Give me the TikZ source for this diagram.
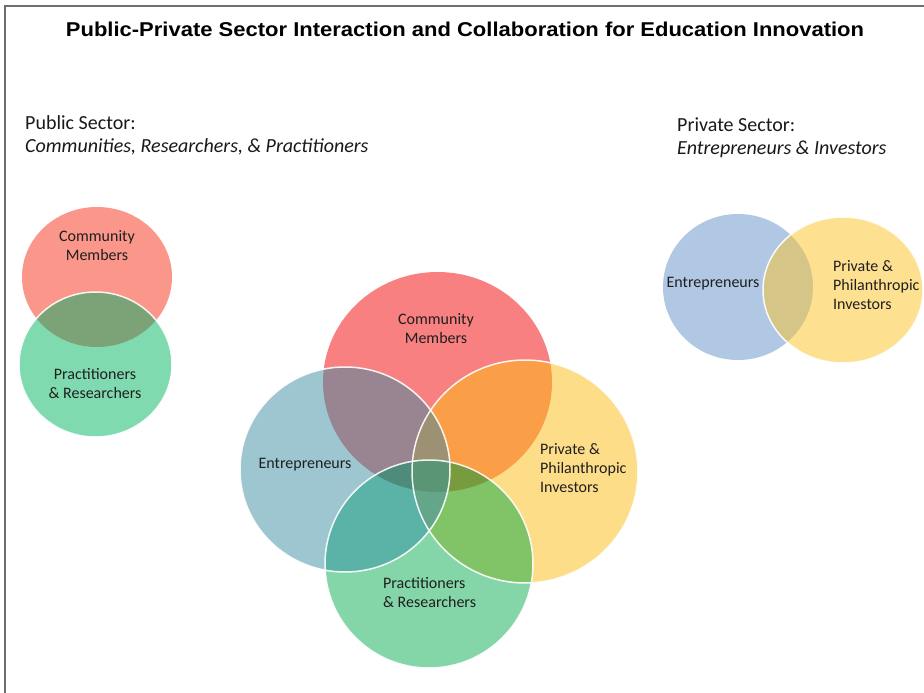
\documentclass[tikz,border=0pt]{standalone}
\usepackage{fontspec}
\setmainfont{Carlito}
\newfontfamily\titlefont{Liberation Sans}
\definecolor{cR}{RGB}{249,128,128}
\definecolor{cB}{RGB}{158,198,208}
\definecolor{cY}{RGB}{253,221,136}
\definecolor{cG}{RGB}{132,214,168}
\definecolor{cRB}{RGB}{152,133,145}
\definecolor{cRY}{RGB}{251,158,72}
\definecolor{cRG}{RGB}{120,150,110}
\definecolor{cBY}{RGB}{160,170,130}
\definecolor{cBG}{RGB}{91,178,166}
\definecolor{cYG}{RGB}{129,196,104}
\definecolor{cRBY}{RGB}{157,145,115}
\definecolor{cRBG}{RGB}{78,139,123}
\definecolor{cRYG}{RGB}{120,155,62}
\definecolor{cBYG}{RGB}{100,166,138}
\definecolor{cRBYG}{RGB}{90,150,118}
\definecolor{sR}{RGB}{250,150,138}
\definecolor{sG}{RGB}{128,218,176}
\definecolor{sRG}{RGB}{124,163,120}
\definecolor{pB}{RGB}{176,200,228}
\definecolor{pY}{RGB}{254,224,145}
\definecolor{pBY}{RGB}{213,198,136}
\definecolor{framegrey}{RGB}{110,110,110}
\newcommand\shR{(437.5,382) ellipse [x radius=114.5, y radius=110]}
\newcommand\shB{(345,469.5) ellipse [x radius=105, y radius=102.5]}
\newcommand\shY{(525,471.5) ellipse [x radius=113, y radius=111.5]}
\newcommand\shG{(429,564) ellipse [x radius=104, y radius=104]}
\newcommand\shsR{(97,277) ellipse [x radius=75, y radius=70]}
\newcommand\shsG{(95.5,364.5) ellipse [x radius=76.5, y radius=72.5]}
\newcommand\shpB{(738,287) ellipse [x radius=75, y radius=73]}
\newcommand\shpY{(843,290) ellipse [x radius=80, y radius=73]}
\begin{document}
\begin{tikzpicture}[x=1pt,y=-1pt,
  lbl/.style={font=\fontsize{16}{19}\selectfont, text=black!88, align=center, inner sep=0pt},
  lbll/.style={lbl, align=left},
  sect/.style={font=\fontsize{20}{23}\selectfont, text=black!90, align=left, inner sep=0pt, anchor=west},
  rim/.style={draw=white, line width=1.5pt, opacity=0.9}]
\useasboundingbox (0,0) rectangle (924,693);
\fill[white] (0,0) rectangle (924,693);
% frame
\draw[framegrey, line width=2pt] (5,693) -- (5,6) -- (924,6);
% title
\node[font=\titlefont\bfseries\fontsize{20}{23}\selectfont, inner sep=0pt] (title) at (465,29) {\scalebox{1.1}[1]{Public-Private Sector Interaction and Collaboration for Education Innovation}};
% section headings
\node[sect] (pub1) at (25,123) {Public Sector:};
\node[sect] (pub2) at (25,147) {\itshape Communities, Researchers, \& Practitioners};
\node[sect] (pri1) at (677,125) {Private Sector:};
\node[sect] (pri2) at (677,149) {\itshape Entrepreneurs \& Investors};
% small public Venn
\fill[sR] \shsR;
\fill[sG] \shsG;
\begin{scope}\clip \shsR; \fill[sRG] \shsG; \end{scope}
\draw[rim] \shsG;
% small private Venn
\fill[pB] \shpB;
\fill[pY] \shpY;
\begin{scope}\clip \shpB; \fill[pBY] \shpY; \end{scope}
\draw[rim] \shpY;
% main Venn singles
\fill[cR] \shR;
\fill[cB] \shB;
\fill[cY] \shY;
\fill[cG] \shG;
% pairs
\begin{scope}\clip \shR; \fill[cRB] \shB; \end{scope}
\begin{scope}\clip \shR; \fill[cRY] \shY; \end{scope}
\begin{scope}\clip \shR; \fill[cRG] \shG; \end{scope}
\begin{scope}\clip \shB; \fill[cBY] \shY; \end{scope}
\begin{scope}\clip \shB; \fill[cBG] \shG; \end{scope}
\begin{scope}\clip \shY; \fill[cYG] \shG; \end{scope}
% triples
\begin{scope}\clip \shR; \clip \shB; \fill[cRBY] \shY; \end{scope}
\begin{scope}\clip \shR; \clip \shB; \fill[cRBG] \shG; \end{scope}
\begin{scope}\clip \shR; \clip \shY; \fill[cRYG] \shG; \end{scope}
\begin{scope}\clip \shB; \clip \shY; \fill[cBYG] \shG; \end{scope}
% quadruple
\begin{scope}\clip \shR; \clip \shB; \clip \shY; \fill[cRBYG] \shG; \end{scope}
% rims
\draw[rim] \shB;
\draw[rim] \shY;
\draw[rim] \shG;
% labels small public
\node[lbl] (scm) at (97,246) {Community\\Members};
\node[lbl] (spr) at (95,384) {Practitioners\\\& Researchers};
% labels private
\node[lbl] (pent) at (713,284) {Entrepreneurs};
\node[lbll, anchor=west] (pinv) at (833,285) {Private \&\\Philanthropic\\Investors};
% labels main
\node[lbl] (mcm) at (436,329) {Community\\Members};
\node[lbl] (ment) at (305,465) {Entrepreneurs};
\node[lbll, anchor=west] (minv) at (540,468) {Private \&\\Philanthropic\\Investors};
\node[lbll, anchor=west] (mpr) at (383,593) {Practitioners\\\& Researchers};
\end{tikzpicture}
\end{document}
